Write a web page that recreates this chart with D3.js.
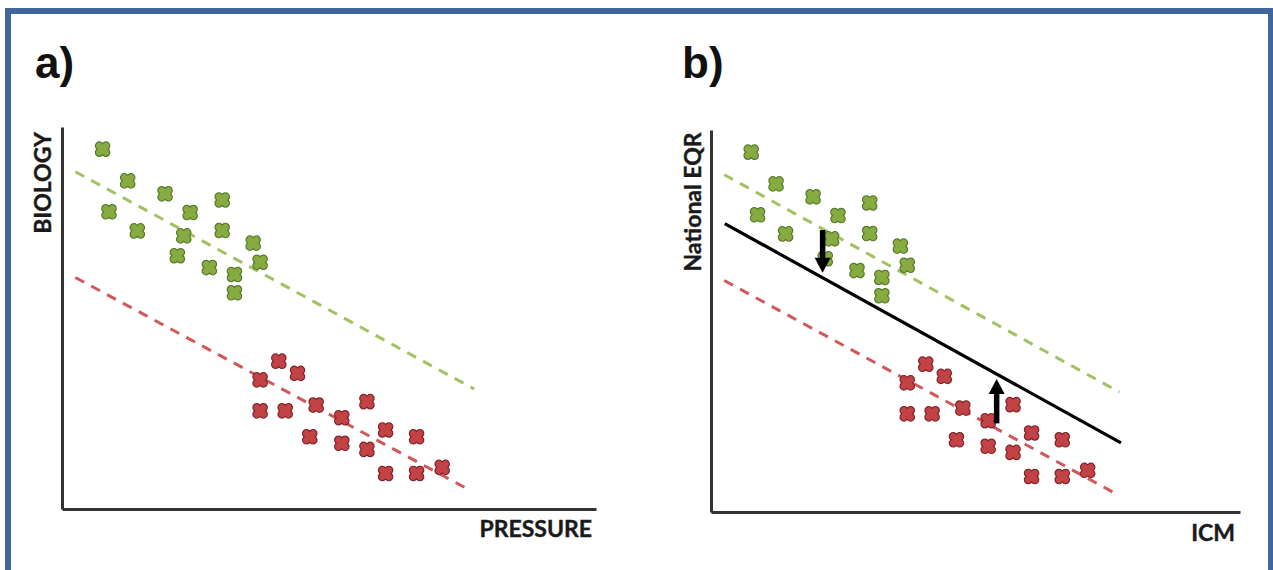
<!DOCTYPE html>
<html lang="en">
  <head>
    <meta charset="utf-8">
    <title>Biology vs pressure</title>
    <script src="https://d3js.org/d3.v7.min.js"></script>
    <style>
      body { margin: 0; background: #fff; }
      .panel-label { font: bold 44px "Liberation Sans", Arial, sans-serif; fill: #111; }
      .axis-label { font: bold 23px Lato, "Open Sans", sans-serif; fill: #1a1a1a; stroke: #1a1a1a; stroke-width: 0.4px; }
    </style>
  </head>
  <body>
    <script>
    // points, in axis units (0..100 along each axis)
    const greenX = [7.6, 12.3, 8.8, 14.1, 19.3, 24.0, 22.8, 21.6, 27.6, 30.0, 30.0, 35.8, 37.1, 32.3, 32.3]
    const greenY = [94.2, 85.9, 77.8, 72.8, 82.5, 77.6, 71.5, 66.3, 63.2, 80.9, 72.9, 69.6, 64.6, 61.4, 56.6]
    const redX = [40.6, 44.1, 37.1, 37.1, 41.8, 47.6, 52.4, 57.1, 46.4, 52.4, 57.1, 60.6, 66.4, 60.6, 66.4, 71.2]
    const redY = [38.7, 35.5, 33.8, 25.7, 25.7, 27.2, 23.9, 28.1, 18.9, 17.2, 15.6, 20.7, 18.9, 9.3, 9.3, 10.9]

    // trend lines: [x1, y1, x2, y2]
    const greenTrend = [2.5, 88.3, 77.2, 31.4]
    const redTrend = [2.5, 60.6, 76.4, 4.9]
    const nationalLine = [2.6, 75.5, 77.5, 18.1]

    // arrows in panel b
    const arrowX = [21.1, 54.0]
    const arrowFrom = [73.8, 23.2]
    const arrowTo = [62.6, 34.8]

    const panelNames = ["a)", "b)"]
    const xTitles = ["PRESSURE", "ICM"]
    const yTitles = ["BIOLOGY", "National EQR"]

    const colors = {
        greenFill: "#86ab40", greenEdge: "#55752a", greenLine: "#a3c162",
        redFill: "#c24245", redEdge: "#7a2226", redLine: "#d0585a",
        axis: "#333"
    }

    const panels = [
        { left: 62, right: 596, bottom: 509, top: 127, labelX: 35, titleX: 592, titleY: 537, yTitleX: 51, yTitleY: 183 },
        { left: 711, right: 1240, bottom: 512, top: 130, labelX: 682, titleX: 1235, titleY: 541, yTitleX: 701, yTitleY: 202 }
    ]

    const svg = d3.select("body").append("svg")
        .attr("width", 1273)
        .attr("height", 570)

    // blue frame
    svg.append("rect")
        .attr("x", 8).attr("y", 11)
        .attr("width", 1263).attr("height", 620)
        .attr("fill", "none")
        .attr("stroke", "#41679a")
        .attr("stroke-width", 6)

    panels.forEach((p, i) => drawPanel(p, i))

    function drawPanel(p, i) {
        const g = svg.append("g")
        const x = d3.scaleLinear().domain([0, 100]).range([p.left, p.right])
        const y = d3.scaleLinear().domain([0, 100]).range([p.bottom, p.top])

        // axes without ticks
        g.append("g")
            .attr("transform", `translate(0,${p.bottom})`)
            .call(d3.axisBottom(x).ticks(0).tickSizeOuter(0))
            .select(".domain").attr("stroke", colors.axis).attr("stroke-width", 3)
        g.append("g")
            .attr("transform", `translate(${p.left},0)`)
            .call(d3.axisLeft(y).ticks(0).tickSizeOuter(0))
            .select(".domain").attr("stroke", colors.axis).attr("stroke-width", 3)

        drawTrend(g, x, y, greenTrend, colors.greenLine)
        drawTrend(g, x, y, redTrend, colors.redLine)

        drawMarkers(g, x, y, greenX, greenY, colors.greenFill, colors.greenEdge)
        drawMarkers(g, x, y, redX, redY, colors.redFill, colors.redEdge)

        if (i === 1) {
            g.append("line")
                .attr("x1", x(nationalLine[0])).attr("y1", y(nationalLine[1]))
                .attr("x2", x(nationalLine[2])).attr("y2", y(nationalLine[3]))
                .attr("stroke", "#000").attr("stroke-width", 3.2)
            drawArrows(g, x, y)
        }

        g.append("text")
            .attr("class", "panel-label")
            .attr("x", p.labelX).attr("y", 78)
            .text(panelNames[i])

        g.append("text")
            .attr("class", "axis-label")
            .attr("x", p.titleX).attr("y", p.titleY)
            .attr("text-anchor", "end")
            .text(xTitles[i])

        g.append("text")
            .attr("class", "axis-label")
            .attr("transform", `translate(${p.yTitleX},${p.yTitleY}) rotate(-90)`)
            .attr("text-anchor", "middle")
            .text(yTitles[i])
    }

    function drawTrend(g, x, y, t, color) {
        g.append("line")
            .attr("x1", x(t[0])).attr("y1", y(t[1]))
            .attr("x2", x(t[2])).attr("y2", y(t[3]))
            .attr("stroke", color)
            .attr("stroke-width", 3)
            .attr("stroke-dasharray", "10,8")
    }

    function drawMarkers(g, x, y, xs, ys, fill, edge) {
        const pts = xs.map((v, k) => [x(v), y(ys[k])])
        const s = 3.3
        const cross = d => `M${d[0]-s},${d[1]-s}L${d[0]+s},${d[1]+s}M${d[0]-s},${d[1]+s}L${d[0]+s},${d[1]-s}`
        g.selectAll(null).data(pts).enter().append("path")
            .attr("d", cross)
            .attr("stroke", edge).attr("stroke-width", 9)
            .attr("stroke-linecap", "round")
        g.selectAll(null).data(pts).enter().append("path")
            .attr("d", cross)
            .attr("stroke", fill).attr("stroke-width", 6.6)
            .attr("stroke-linecap", "round")
    }

    function drawArrows(g, x, y) {
        arrowX.forEach((ax, k) => {
            const cx = x(ax), y0 = y(arrowFrom[k]), y1 = y(arrowTo[k])
            const dir = y1 > y0 ? 1 : -1
            const headLen = 15, headHalf = 8
            g.append("line")
                .attr("x1", cx).attr("y1", y0)
                .attr("x2", cx).attr("y2", y1 - dir * headLen)
                .attr("stroke", "#000").attr("stroke-width", 5.5)
            g.append("path")
                .attr("d", `M${cx - headHalf},${y1 - dir * headLen}L${cx + headHalf},${y1 - dir * headLen}L${cx},${y1}Z`)
                .attr("fill", "#000")
        })
    }
    </script>
  </body>
</html>
